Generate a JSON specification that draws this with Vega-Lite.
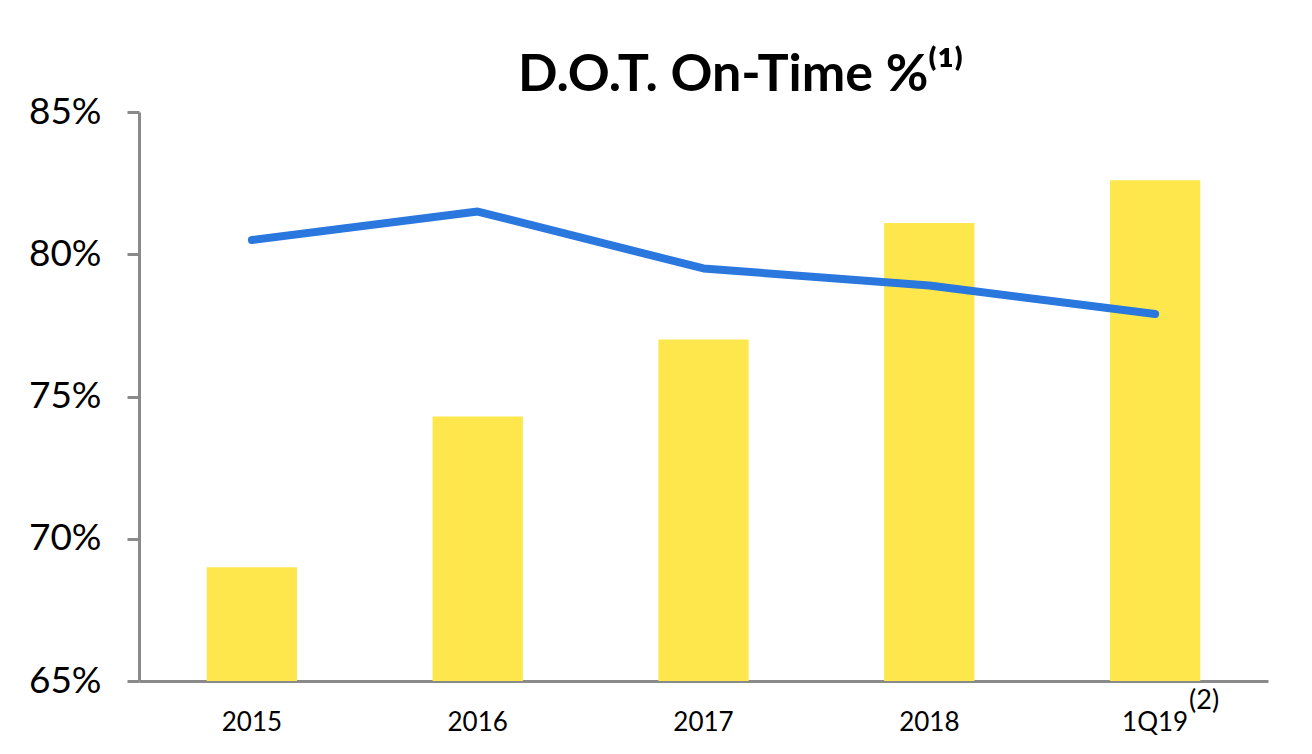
{
  "$schema": "https://vega.github.io/schema/vega-lite/v6.json",
  "width": 1129,
  "height": 569,
  "autosize": {"type": "none"},
  "padding": {"left": 139, "top": 112, "right": 44, "bottom": 73},
  "background": "white",
  "title": {
    "text": "D.O.T. On-Time %⁽¹⁾",
    "font": "Lato",
    "fontSize": 52,
    "fontWeight": "bold",
    "color": "#000000",
    "anchor": "middle",
    "baseline": "alphabetic",
    "dx": 37,
    "offset": -50
  },
  "data": {
    "values": [
      {"period": "2015", "bar": 69.0, "line": 80.5, "note": ""},
      {"period": "2016", "bar": 74.3, "line": 81.5, "note": ""},
      {"period": "2017", "bar": 77.0, "line": 79.5, "note": ""},
      {"period": "2018", "bar": 81.1, "line": 78.9, "note": ""},
      {"period": "1Q19", "bar": 82.6, "line": 77.9, "note": "(2)"}
    ]
  },
  "config": {
    "view": {"stroke": null},
    "axis": {"grid": false, "domainColor": "#8a8a8a", "domainWidth": 3, "tickColor": "#8a8a8a", "tickWidth": 3, "labelColor": "#000000", "labelFont": "Lato"}
  },
  "encoding": {
    "x": {
      "field": "period",
      "type": "nominal",
      "sort": null,
      "scale": {"paddingInner": 0.6, "paddingOuter": 0.3},
      "axis": {"title": null, "labelAngle": 0, "labelFontSize": 26, "labelPadding": 28, "ticks": false}
    }
  },
  "layer": [
    {
      "mark": {"type": "bar", "color": "#FDE74C"},
      "encoding": {
        "y": {
          "field": "bar",
          "type": "quantitative",
          "scale": {"domain": [65, 85], "nice": false, "zero": false},
          "axis": {"title": null, "values": [65, 70, 75, 80, 85], "labelExpr": "datum.value + '%'", "labelFontSize": 37, "tickSize": 12, "labelPadding": 26}
        },
        "y2": {"datum": 65}
      }
    },
    {
      "mark": {"type": "line", "color": "#2A77DE", "strokeWidth": 8, "strokeCap": "round", "strokeJoin": "round"},
      "encoding": {
        "y": {"field": "line", "type": "quantitative"}
      }
    },
    {
      "mark": {"type": "text", "font": "Lato", "fontSize": 27, "align": "left", "baseline": "middle", "dx": 34, "dy": 20, "color": "#000000"},
      "encoding": {
        "y": {"datum": 65},
        "text": {"field": "note"}
      }
    }
  ]
}
